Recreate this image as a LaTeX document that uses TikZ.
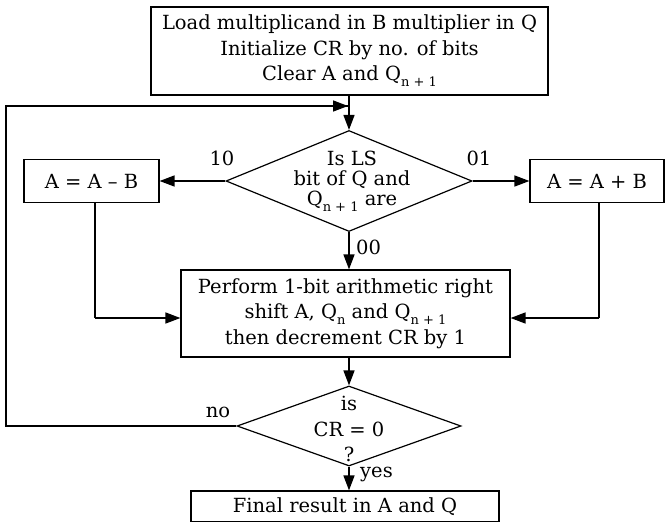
\documentclass[tikz,border=0pt]{standalone}
\usepackage{fontspec}
\setmainfont{DejaVu Serif}
\usetikzlibrary{arrows.meta,shapes.geometric}
\newcommand{\sbs}[1]{\raisebox{-0.3em}{\fontsize{13}{13}\selectfont #1}}
\begin{document}
\begin{tikzpicture}[x=1pt,y=-1pt,
  box/.style={draw, line width=1.2pt, inner sep=0pt, align=center, font=\fontsize{19.5}{25.5}\selectfont},
  dia/.style={draw, diamond, line width=1.2pt, inner sep=0pt},
  txt/.style={align=center, inner sep=0pt, font=\fontsize{19.5}{25.5}\selectfont},
  lbl/.style={inner sep=0pt, font=\fontsize{19.5}{22}\selectfont},
  conn/.style={line width=1.6pt, -{Triangle[length=15pt,width=11pt]}},
  line/.style={line width=1.6pt}]
\useasboundingbox (0,0) rectangle (665,522);
\node[box, minimum width=397pt, minimum height=88pt] (init) at (349.5,51) {Load multiplicand in B multiplier in Q\\Initialize CR by no. of bits\\Clear A and Q\sbs{n + 1}};
\node[dia, minimum width=246pt, minimum height=101pt] (d1) at (349,181) {};
\node[txt, font=\fontsize{19.5}{20}\selectfont] (d1t) at (352,181) {Is LS\\bit of Q and\\Q\sbs{n + 1} are};
\node[box, minimum width=135pt, minimum height=43pt] (sub) at (91.5,181) {A = A – B};
\node[box, minimum width=134pt, minimum height=43pt] (add) at (597,181) {A = A + B};
\node[box, minimum width=329pt, minimum height=87pt] (shift) at (345.5,313.5) {Perform 1-bit arithmetic right\\shift A, Q\sbs{n} and Q\sbs{n + 1}\\then decrement CR by 1};
\node[dia, minimum width=224pt, minimum height=80pt] (d2) at (349,426) {};
\node[txt] (d2t) at (349,429) {is\\CR = 0\\?};
\node[box, minimum width=308pt, minimum height=31pt] (final) at (345,506.5) {Final result in A and Q};
\coordinate (cl) at (95,318);
\coordinate (cr) at (599,318);
\coordinate (lb) at (6,426);
\coordinate (lt) at (6,106);
\coordinate (lj) at (348,106);
% connectors
\draw[conn] (init.south -| d1.north) -- (d1.north);
\draw[conn] (d1.west) -- (sub.east);
\draw[conn] (d1.east) -- (add.west);
\draw[conn] (d1.south) -- (d1.south |- shift.north);
\draw[line] (sub.south -| cl) -- (cl);
\draw[conn] (cl) -- (cl -| shift.west);
\draw[line] (add.south -| cr) -- (cr);
\draw[conn] (cr) -- (cr -| shift.east);
\draw[conn] (shift.south -| d2.north) -- (d2.north);
\draw[conn] (d2.south) -- (d2.south |- final.north);
\draw[line] (d2.west) -- (lb) -- (lt) -- (lj);
\draw[conn] (lt) -- (lj);
% labels
\node[lbl] (l10) at (222,158) {10};
\node[lbl] (l01) at (479,158) {01};
\node[lbl, anchor=west] (l00) at (356,247) {00};
\node[lbl] (lno) at (218,412) {no};
\node[lbl, anchor=west] (lyes) at (360,474) {yes};
\end{tikzpicture}
\end{document}
